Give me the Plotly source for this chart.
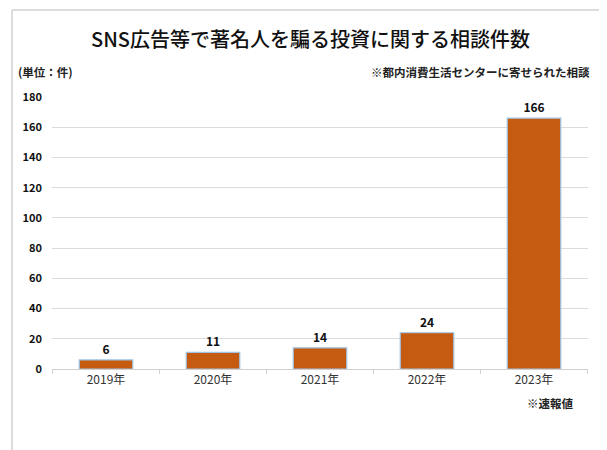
import plotly.graph_objects as go

categories = ["2019年", "2020年", "2021年", "2022年", "2023年"]
values = [6, 11, 14, 24, 166]
y_ticks = [0, 20, 40, 60, 80, 100, 120, 140, 160, 180]

# page body has an 8px margin; work in reference pixel coords shifted by 8
OFF = 8
W, H = 607 - OFF, 450 - OFF
ml, mr, mt, mb = 52 - OFF, 19, 97 - OFF, 81
pw, ph = W - ml - mr, H - mt - mb

def px(x):
    return (x - OFF - ml) / pw

def py(y):
    return (H - mb - (y - OFF)) / ph

font_fam = "Noto Sans CJK JP, Noto Sans, sans-serif"

fig = go.Figure(go.Bar(
    x=categories, y=values,
    marker=dict(color="#C55A11", line=dict(color="#9DC3E6", width=1.2)),
    width=0.5,
    text=[str(v) for v in values],
    textposition="outside",
    textfont=dict(size=12, color="#111111", family=font_fam, weight="bold"),
    cliponaxis=False,
))

fig.update_layout(
    width=W, height=H,
    margin=dict(l=ml, r=mr, t=mt, b=mb),
    paper_bgcolor="white", plot_bgcolor="white",
    showlegend=False,
    font=dict(family=font_fam, color="#222222"),
    xaxis=dict(
        showgrid=False, showline=True, linecolor="#d0d0d0", linewidth=1,
        ticks="", tickfont=dict(size=12, color="#333333"),
    ),
    yaxis=dict(
        range=[0, 180], tickvals=y_ticks, showgrid=True, gridcolor="#dcdcdc",
        gridwidth=1, zeroline=False, showline=False,
        tickfont=dict(size=11, color="#111111", weight="bold"), ticklabelstandoff=9,
    ),
    bargap=0.5,
)

shapes = []
for i in range(len(categories) + 1):
    shapes.append(dict(type="line", xref="x", yref="paper",
                       x0=i - 0.5, x1=i - 0.5, y0=0, y1=py(374),
                       line=dict(color="#d0d0d0", width=1)))
border = dict(color="#d0d0d0", width=1.5)
shapes.append(dict(type="line", xref="paper", yref="paper",
                   x0=px(12), x1=px(12), y0=py(452), y1=py(10), line=border))
shapes.append(dict(type="line", xref="paper", yref="paper",
                   x0=px(12), x1=px(603), y0=py(10), y1=py(10), line=border))
shapes.append(dict(type="line", xref="paper", yref="paper",
                   x0=px(603), x1=px(603), y0=py(452), y1=py(10), line=border))
fig.update_layout(shapes=shapes)

annotations = [
    dict(text="SNS広告等で著名人を騙る投資に関する相談件数", x=px(310), y=py(38),
         xref="paper", yref="paper", showarrow=False, xanchor="center", yanchor="middle",
         font=dict(size=20, color="#111111", family=font_fam, weight=500)),
    dict(text="(単位：件)", x=px(16), y=py(72), xref="paper", yref="paper",
         showarrow=False, xanchor="left", yanchor="middle",
         font=dict(size=11.5, color="#222222", family=font_fam, weight="bold")),
    dict(text="※都内消費生活センターに寄せられた相談", x=px(592), y=py(72),
         xref="paper", yref="paper", showarrow=False, xanchor="right", yanchor="middle",
         font=dict(size=11.5, color="#222222", family=font_fam, weight="bold")),
    dict(text="※速報値", x=px(576), y=py(403), xref="paper", yref="paper",
         showarrow=False, xanchor="right", yanchor="middle",
         font=dict(size=11.5, color="#222222", family=font_fam, weight="bold")),
]
fig.update_layout(annotations=annotations)

fig.write_html("out.html")
